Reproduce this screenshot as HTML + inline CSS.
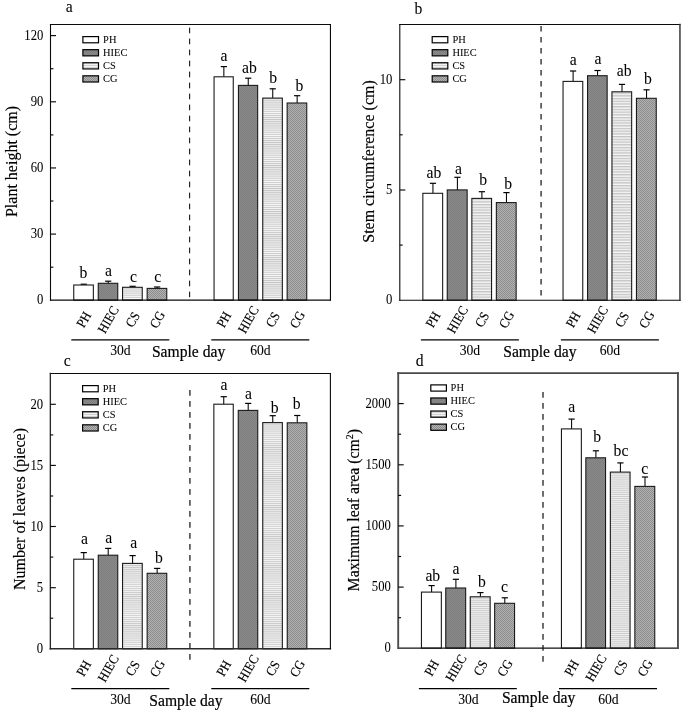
<!DOCTYPE html><html><head><meta charset="utf-8"><title>Figure</title>
<style>html,body{margin:0;padding:0;background:#fff;}svg{display:block;filter:grayscale(1);}text{font-family:"Liberation Serif",serif;fill:#000;stroke:#000;}</style></head><body>
<svg width="685" height="714" viewBox="0 0 685 714">
<defs>
<pattern id="hiec" width="2" height="2" patternUnits="userSpaceOnUse"><rect width="2" height="2" fill="#8a8a8a"/><rect width="1" height="1" fill="#7e7e7e"/><rect x="1" y="1" width="1" height="1" fill="#7e7e7e"/></pattern>
<pattern id="cs" width="4" height="2.09" patternUnits="userSpaceOnUse"><rect width="4" height="2.09" fill="#f6f6f6"/><rect y="0" width="4" height="1.045" fill="#c6c6c6"/></pattern>
<pattern id="csb" width="4" height="2.72" patternUnits="userSpaceOnUse"><rect width="4" height="2.72" fill="#f6f6f6"/><rect y="0" width="4" height="1.360" fill="#c4c4c4"/></pattern>
<pattern id="csc" width="4" height="2.07" patternUnits="userSpaceOnUse"><rect width="4" height="2.07" fill="#f5f5f5"/><rect y="0" width="4" height="1.035" fill="#c9c9c9"/></pattern>
<pattern id="csd" width="4" height="1.93" patternUnits="userSpaceOnUse"><rect width="4" height="1.93" fill="#f0f0f0"/><rect y="0" width="4" height="0.965" fill="#cccccc"/></pattern>
<pattern id="cg" width="2" height="2" patternUnits="userSpaceOnUse"><rect width="2" height="2" fill="#b2b2b2"/><rect width="1" height="1" fill="#8c8c8c"/><rect x="1" y="1" width="1" height="1" fill="#8c8c8c"/></pattern>
</defs>
<rect width="685" height="714" fill="#fff"/>
<line x1="83.75" y1="285.00" x2="83.75" y2="284.20" stroke="#000" stroke-width="1.05"/>
<line x1="80.65" y1="284.20" x2="86.85" y2="284.20" stroke="#000" stroke-width="1.2"/>
<rect x="73.75" y="285.00" width="19.60" height="15.15" fill="#fff" stroke="#1a1a1a" stroke-width="1.1"/>
<line x1="108.20" y1="283.30" x2="108.20" y2="281.20" stroke="#000" stroke-width="1.05"/>
<line x1="105.10" y1="281.20" x2="111.30" y2="281.20" stroke="#000" stroke-width="1.2"/>
<rect x="98.25" y="283.30" width="19.50" height="16.85" fill="url(#hiec)" stroke="#1a1a1a" stroke-width="1.1"/>
<line x1="132.60" y1="287.30" x2="132.60" y2="286.30" stroke="#000" stroke-width="1.05"/>
<line x1="129.50" y1="286.30" x2="135.70" y2="286.30" stroke="#000" stroke-width="1.2"/>
<rect x="122.55" y="287.30" width="19.70" height="12.85" fill="url(#cs)" stroke="#1a1a1a" stroke-width="1.1"/>
<line x1="157.15" y1="288.40" x2="157.15" y2="287.00" stroke="#000" stroke-width="1.05"/>
<line x1="154.05" y1="287.00" x2="160.25" y2="287.00" stroke="#000" stroke-width="1.2"/>
<rect x="147.15" y="288.40" width="19.60" height="11.75" fill="url(#cg)" stroke="#1a1a1a" stroke-width="1.1"/>
<line x1="223.85" y1="76.80" x2="223.85" y2="66.60" stroke="#000" stroke-width="1.05"/>
<line x1="220.75" y1="66.60" x2="226.95" y2="66.60" stroke="#000" stroke-width="1.2"/>
<rect x="214.05" y="76.80" width="19.20" height="223.35" fill="#fff" stroke="#1a1a1a" stroke-width="1.1"/>
<line x1="248.25" y1="85.40" x2="248.25" y2="78.20" stroke="#000" stroke-width="1.05"/>
<line x1="245.15" y1="78.20" x2="251.35" y2="78.20" stroke="#000" stroke-width="1.2"/>
<rect x="238.45" y="85.40" width="19.20" height="214.75" fill="url(#hiec)" stroke="#1a1a1a" stroke-width="1.1"/>
<line x1="272.75" y1="98.10" x2="272.75" y2="88.80" stroke="#000" stroke-width="1.05"/>
<line x1="269.65" y1="88.80" x2="275.85" y2="88.80" stroke="#000" stroke-width="1.2"/>
<rect x="262.75" y="98.10" width="19.60" height="202.05" fill="url(#cs)" stroke="#1a1a1a" stroke-width="1.1"/>
<line x1="297.15" y1="103.00" x2="297.15" y2="95.70" stroke="#000" stroke-width="1.05"/>
<line x1="294.05" y1="95.70" x2="300.25" y2="95.70" stroke="#000" stroke-width="1.2"/>
<rect x="287.15" y="103.00" width="19.60" height="197.15" fill="url(#cg)" stroke="#1a1a1a" stroke-width="1.1"/>
<line x1="189.65" y1="27.6" x2="189.65" y2="297.20" stroke="#000" stroke-width="1.0" stroke-dasharray="5.7 5.3"/>
<line x1="50.50" y1="24.55" x2="330.45" y2="24.55" stroke="#0a0a0a" stroke-width="1.1" stroke-linecap="square"/>
<line x1="50.50" y1="300.15" x2="330.45" y2="300.15" stroke="#0a0a0a" stroke-width="1.1" stroke-linecap="square"/>
<line x1="50.50" y1="24.55" x2="50.50" y2="300.15" stroke="#0a0a0a" stroke-width="1.1" stroke-linecap="square"/>
<line x1="330.45" y1="24.55" x2="330.45" y2="300.15" stroke="#0a0a0a" stroke-width="1.1" stroke-linecap="square"/>
<text transform="translate(43.30,304.35) scale(0.905,1)" font-size="14.0" stroke-width="0.04" text-anchor="end">0</text>
<line x1="50.5" y1="234.10" x2="56.0" y2="234.10" stroke="#0a0a0a" stroke-width="1.15"/>
<text transform="translate(43.30,238.30) scale(0.905,1)" font-size="14.0" stroke-width="0.04" text-anchor="end">30</text>
<line x1="50.5" y1="167.95" x2="56.0" y2="167.95" stroke="#0a0a0a" stroke-width="1.15"/>
<text transform="translate(43.30,172.15) scale(0.905,1)" font-size="14.0" stroke-width="0.04" text-anchor="end">60</text>
<line x1="50.5" y1="101.80" x2="56.0" y2="101.80" stroke="#0a0a0a" stroke-width="1.15"/>
<text transform="translate(43.30,106.00) scale(0.905,1)" font-size="14.0" stroke-width="0.04" text-anchor="end">90</text>
<line x1="50.5" y1="35.60" x2="56.0" y2="35.60" stroke="#0a0a0a" stroke-width="1.15"/>
<text transform="translate(43.30,39.80) scale(0.905,1)" font-size="14.0" stroke-width="0.04" text-anchor="end">120</text>
<line x1="50.5" y1="267.20" x2="53.4" y2="267.20" stroke="#0a0a0a" stroke-width="1.15"/>
<line x1="50.5" y1="201.00" x2="53.4" y2="201.00" stroke="#0a0a0a" stroke-width="1.15"/>
<line x1="50.5" y1="134.90" x2="53.4" y2="134.90" stroke="#0a0a0a" stroke-width="1.15"/>
<line x1="50.5" y1="68.70" x2="53.4" y2="68.70" stroke="#0a0a0a" stroke-width="1.15"/>
<text transform="translate(83.50,277.70) scale(0.97,1)" font-size="16.2" stroke-width="0.05" text-anchor="middle">b</text>
<text transform="translate(108.50,276.30) scale(0.97,1)" font-size="16.2" stroke-width="0.05" text-anchor="middle">a</text>
<text transform="translate(133.60,282.40) scale(0.97,1)" font-size="16.2" stroke-width="0.05" text-anchor="middle">c</text>
<text transform="translate(157.80,282.40) scale(0.97,1)" font-size="16.2" stroke-width="0.05" text-anchor="middle">c</text>
<text transform="translate(224.00,61.00) scale(0.97,1)" font-size="16.2" stroke-width="0.05" text-anchor="middle">a</text>
<text transform="translate(249.40,72.90) scale(0.97,1)" font-size="16.2" stroke-width="0.05" text-anchor="middle">ab</text>
<text transform="translate(273.20,82.60) scale(0.97,1)" font-size="16.2" stroke-width="0.05" text-anchor="middle">b</text>
<text transform="translate(299.50,91.30) scale(0.97,1)" font-size="16.2" stroke-width="0.05" text-anchor="middle">b</text>
<rect x="82.90" y="36.60" width="15.6" height="6.2" fill="#fff" stroke="#000" stroke-width="1.2"/>
<text transform="translate(103.10,42.80) scale(0.93,1)" font-size="11.2" stroke-width="0.05" text-anchor="start">PH</text>
<rect x="82.90" y="49.67" width="15.6" height="6.2" fill="url(#hiec)" stroke="#000" stroke-width="1.2"/>
<text transform="translate(103.10,55.87) scale(0.93,1)" font-size="11.2" stroke-width="0.05" text-anchor="start">HIEC</text>
<rect x="82.90" y="62.74" width="15.6" height="6.2" fill="url(#cs)" stroke="#000" stroke-width="1.2"/>
<text transform="translate(103.10,68.94) scale(0.93,1)" font-size="11.2" stroke-width="0.05" text-anchor="start">CS</text>
<rect x="82.90" y="75.81" width="15.6" height="6.2" fill="url(#cg)" stroke="#000" stroke-width="1.2"/>
<text transform="translate(103.10,82.01) scale(0.93,1)" font-size="11.2" stroke-width="0.05" text-anchor="start">CG</text>
<text transform="translate(83.95,319.60) rotate(-60) scale(0.9,1)" font-size="13.6" stroke-width="0.15" text-anchor="middle" y="4.4">PH</text>
<text transform="translate(108.40,319.60) rotate(-60) scale(0.9,1)" font-size="13.6" stroke-width="0.15" text-anchor="middle" y="4.4">HIEC</text>
<text transform="translate(132.80,319.60) rotate(-60) scale(0.9,1)" font-size="13.6" stroke-width="0.15" text-anchor="middle" y="4.4">CS</text>
<text transform="translate(157.35,319.60) rotate(-60) scale(0.9,1)" font-size="13.6" stroke-width="0.15" text-anchor="middle" y="4.4">CG</text>
<text transform="translate(224.05,319.60) rotate(-60) scale(0.9,1)" font-size="13.6" stroke-width="0.15" text-anchor="middle" y="4.4">PH</text>
<text transform="translate(248.45,319.60) rotate(-60) scale(0.9,1)" font-size="13.6" stroke-width="0.15" text-anchor="middle" y="4.4">HIEC</text>
<text transform="translate(272.95,319.60) rotate(-60) scale(0.9,1)" font-size="13.6" stroke-width="0.15" text-anchor="middle" y="4.4">CS</text>
<text transform="translate(297.35,319.60) rotate(-60) scale(0.9,1)" font-size="13.6" stroke-width="0.15" text-anchor="middle" y="4.4">CG</text>
<line x1="71.3" y1="339.8" x2="169.3" y2="339.8" stroke="#000" stroke-width="1.2"/>
<line x1="211.3" y1="339.8" x2="309.3" y2="339.8" stroke="#000" stroke-width="1.2"/>
<text transform="translate(120.40,354.80) scale(0.975,1)" font-size="14.0" stroke-width="0.08" text-anchor="middle">30d</text>
<text transform="translate(260.40,354.80) scale(0.975,1)" font-size="14.0" stroke-width="0.08" text-anchor="middle">60d</text>
<text transform="translate(151.90,356.70) scale(0.93,1)" font-size="16.8" stroke-width="0.22" text-anchor="start">Sample day</text>
<text transform="translate(17.20,161.50) rotate(-90) scale(0.953,1)" font-size="16.8" stroke-width="0.16" text-anchor="middle">Plant height (cm)</text>
<text transform="translate(65.70,11.80) scale(0.97,1)" font-size="16.2" stroke-width="0.05" text-anchor="start">a</text>
<line x1="432.95" y1="193.30" x2="432.95" y2="183.30" stroke="#000" stroke-width="1.05"/>
<line x1="429.85" y1="183.30" x2="436.05" y2="183.30" stroke="#000" stroke-width="1.2"/>
<rect x="422.85" y="193.30" width="19.80" height="106.90" fill="#fff" stroke="#1a1a1a" stroke-width="1.1"/>
<line x1="457.40" y1="189.90" x2="457.40" y2="177.30" stroke="#000" stroke-width="1.05"/>
<line x1="454.30" y1="177.30" x2="460.50" y2="177.30" stroke="#000" stroke-width="1.2"/>
<rect x="447.25" y="189.90" width="19.90" height="110.30" fill="url(#hiec)" stroke="#1a1a1a" stroke-width="1.1"/>
<line x1="481.90" y1="198.40" x2="481.90" y2="191.70" stroke="#000" stroke-width="1.05"/>
<line x1="478.80" y1="191.70" x2="485.00" y2="191.70" stroke="#000" stroke-width="1.2"/>
<rect x="471.85" y="198.40" width="19.70" height="101.80" fill="url(#csb)" stroke="#1a1a1a" stroke-width="1.1"/>
<line x1="506.45" y1="202.60" x2="506.45" y2="192.60" stroke="#000" stroke-width="1.05"/>
<line x1="503.35" y1="192.60" x2="509.55" y2="192.60" stroke="#000" stroke-width="1.2"/>
<rect x="496.35" y="202.60" width="19.80" height="97.60" fill="url(#cg)" stroke="#1a1a1a" stroke-width="1.1"/>
<line x1="573.10" y1="81.40" x2="573.10" y2="71.00" stroke="#000" stroke-width="1.05"/>
<line x1="570.00" y1="71.00" x2="576.20" y2="71.00" stroke="#000" stroke-width="1.2"/>
<rect x="563.05" y="81.40" width="19.70" height="218.80" fill="#fff" stroke="#1a1a1a" stroke-width="1.1"/>
<line x1="597.55" y1="75.70" x2="597.55" y2="70.50" stroke="#000" stroke-width="1.05"/>
<line x1="594.45" y1="70.50" x2="600.65" y2="70.50" stroke="#000" stroke-width="1.2"/>
<rect x="587.55" y="75.70" width="19.60" height="224.50" fill="url(#hiec)" stroke="#1a1a1a" stroke-width="1.1"/>
<line x1="622.00" y1="91.80" x2="622.00" y2="84.40" stroke="#000" stroke-width="1.05"/>
<line x1="618.90" y1="84.40" x2="625.10" y2="84.40" stroke="#000" stroke-width="1.2"/>
<rect x="611.95" y="91.80" width="19.70" height="208.40" fill="url(#csb)" stroke="#1a1a1a" stroke-width="1.1"/>
<line x1="646.55" y1="98.30" x2="646.55" y2="89.80" stroke="#000" stroke-width="1.05"/>
<line x1="643.45" y1="89.80" x2="649.65" y2="89.80" stroke="#000" stroke-width="1.2"/>
<rect x="636.45" y="98.30" width="19.80" height="201.90" fill="url(#cg)" stroke="#1a1a1a" stroke-width="1.1"/>
<line x1="541.1" y1="25.9" x2="541.1" y2="295.50" stroke="#555" stroke-width="1.7" stroke-dasharray="5.7 5.3"/>
<line x1="399.80" y1="24.55" x2="679.95" y2="24.55" stroke="#0a0a0a" stroke-width="1.1" stroke-linecap="square"/>
<line x1="399.80" y1="300.20" x2="679.95" y2="300.20" stroke="#0a0a0a" stroke-width="1.1" stroke-linecap="square"/>
<line x1="399.80" y1="24.55" x2="399.80" y2="300.20" stroke="#0a0a0a" stroke-width="1.1" stroke-linecap="square"/>
<line x1="679.95" y1="24.55" x2="679.95" y2="300.20" stroke="#3a3a3a" stroke-width="1.5" stroke-linecap="square"/>
<text transform="translate(392.40,304.40) scale(0.905,1)" font-size="14.0" stroke-width="0.04" text-anchor="end">0</text>
<line x1="399.8" y1="190.00" x2="405.3" y2="190.00" stroke="#0a0a0a" stroke-width="1.15"/>
<text transform="translate(392.40,194.20) scale(0.905,1)" font-size="14.0" stroke-width="0.04" text-anchor="end">5</text>
<line x1="399.8" y1="79.70" x2="405.3" y2="79.70" stroke="#0a0a0a" stroke-width="1.15"/>
<text transform="translate(392.40,83.90) scale(0.905,1)" font-size="14.0" stroke-width="0.04" text-anchor="end">10</text>
<line x1="399.8" y1="245.10" x2="402.7" y2="245.10" stroke="#0a0a0a" stroke-width="1.15"/>
<line x1="399.8" y1="134.80" x2="402.7" y2="134.80" stroke="#0a0a0a" stroke-width="1.15"/>
<text transform="translate(434.00,178.00) scale(0.97,1)" font-size="16.2" stroke-width="0.05" text-anchor="middle">ab</text>
<text transform="translate(458.50,174.00) scale(0.97,1)" font-size="16.2" stroke-width="0.05" text-anchor="middle">a</text>
<text transform="translate(483.20,185.00) scale(0.97,1)" font-size="16.2" stroke-width="0.05" text-anchor="middle">b</text>
<text transform="translate(508.10,188.90) scale(0.97,1)" font-size="16.2" stroke-width="0.05" text-anchor="middle">b</text>
<text transform="translate(573.30,65.00) scale(0.97,1)" font-size="16.2" stroke-width="0.05" text-anchor="middle">a</text>
<text transform="translate(598.10,64.00) scale(0.97,1)" font-size="16.2" stroke-width="0.05" text-anchor="middle">a</text>
<text transform="translate(624.20,75.70) scale(0.97,1)" font-size="16.2" stroke-width="0.05" text-anchor="middle">ab</text>
<text transform="translate(647.80,83.90) scale(0.97,1)" font-size="16.2" stroke-width="0.05" text-anchor="middle">b</text>
<rect x="432.20" y="36.60" width="15.6" height="6.2" fill="#fff" stroke="#000" stroke-width="1.2"/>
<text transform="translate(452.40,42.80) scale(0.93,1)" font-size="11.2" stroke-width="0.05" text-anchor="start">PH</text>
<rect x="432.20" y="49.67" width="15.6" height="6.2" fill="url(#hiec)" stroke="#000" stroke-width="1.2"/>
<text transform="translate(452.40,55.87) scale(0.93,1)" font-size="11.2" stroke-width="0.05" text-anchor="start">HIEC</text>
<rect x="432.20" y="62.74" width="15.6" height="6.2" fill="url(#cs)" stroke="#000" stroke-width="1.2"/>
<text transform="translate(452.40,68.94) scale(0.93,1)" font-size="11.2" stroke-width="0.05" text-anchor="start">CS</text>
<rect x="432.20" y="75.81" width="15.6" height="6.2" fill="url(#cg)" stroke="#000" stroke-width="1.2"/>
<text transform="translate(452.40,82.01) scale(0.93,1)" font-size="11.2" stroke-width="0.05" text-anchor="start">CG</text>
<text transform="translate(433.15,319.60) rotate(-60) scale(0.9,1)" font-size="13.6" stroke-width="0.15" text-anchor="middle" y="4.4">PH</text>
<text transform="translate(457.60,319.60) rotate(-60) scale(0.9,1)" font-size="13.6" stroke-width="0.15" text-anchor="middle" y="4.4">HIEC</text>
<text transform="translate(482.10,319.60) rotate(-60) scale(0.9,1)" font-size="13.6" stroke-width="0.15" text-anchor="middle" y="4.4">CS</text>
<text transform="translate(506.65,319.60) rotate(-60) scale(0.9,1)" font-size="13.6" stroke-width="0.15" text-anchor="middle" y="4.4">CG</text>
<text transform="translate(573.30,319.60) rotate(-60) scale(0.9,1)" font-size="13.6" stroke-width="0.15" text-anchor="middle" y="4.4">PH</text>
<text transform="translate(597.75,319.60) rotate(-60) scale(0.9,1)" font-size="13.6" stroke-width="0.15" text-anchor="middle" y="4.4">HIEC</text>
<text transform="translate(622.20,319.60) rotate(-60) scale(0.9,1)" font-size="13.6" stroke-width="0.15" text-anchor="middle" y="4.4">CS</text>
<text transform="translate(646.75,319.60) rotate(-60) scale(0.9,1)" font-size="13.6" stroke-width="0.15" text-anchor="middle" y="4.4">CG</text>
<line x1="420.9" y1="339.8" x2="518.9" y2="339.8" stroke="#000" stroke-width="1.2"/>
<line x1="560.9" y1="339.8" x2="658.9" y2="339.8" stroke="#000" stroke-width="1.2"/>
<text transform="translate(469.90,354.80) scale(0.975,1)" font-size="14.0" stroke-width="0.08" text-anchor="middle">30d</text>
<text transform="translate(609.90,354.80) scale(0.975,1)" font-size="14.0" stroke-width="0.08" text-anchor="middle">60d</text>
<text transform="translate(503.20,356.90) scale(0.93,1)" font-size="16.8" stroke-width="0.22" text-anchor="start">Sample day</text>
<text transform="translate(373.80,161.50) rotate(-90) scale(0.953,1)" font-size="16.8" stroke-width="0.16" text-anchor="middle">Stem circumference (cm)</text>
<text transform="translate(414.50,13.60) scale(0.97,1)" font-size="16.2" stroke-width="0.05" text-anchor="start">b</text>
<line x1="83.75" y1="559.20" x2="83.75" y2="552.60" stroke="#000" stroke-width="1.05"/>
<line x1="80.65" y1="552.60" x2="86.85" y2="552.60" stroke="#000" stroke-width="1.2"/>
<rect x="73.75" y="559.20" width="19.60" height="89.60" fill="#fff" stroke="#1a1a1a" stroke-width="1.1"/>
<line x1="108.20" y1="555.20" x2="108.20" y2="548.40" stroke="#000" stroke-width="1.05"/>
<line x1="105.10" y1="548.40" x2="111.30" y2="548.40" stroke="#000" stroke-width="1.2"/>
<rect x="98.25" y="555.20" width="19.50" height="93.60" fill="url(#hiec)" stroke="#1a1a1a" stroke-width="1.1"/>
<line x1="132.60" y1="563.40" x2="132.60" y2="555.60" stroke="#000" stroke-width="1.05"/>
<line x1="129.50" y1="555.60" x2="135.70" y2="555.60" stroke="#000" stroke-width="1.2"/>
<rect x="122.55" y="563.40" width="19.70" height="85.40" fill="url(#csc)" stroke="#1a1a1a" stroke-width="1.1"/>
<line x1="157.15" y1="573.30" x2="157.15" y2="568.40" stroke="#000" stroke-width="1.05"/>
<line x1="154.05" y1="568.40" x2="160.25" y2="568.40" stroke="#000" stroke-width="1.2"/>
<rect x="147.15" y="573.30" width="19.60" height="75.50" fill="url(#cg)" stroke="#1a1a1a" stroke-width="1.1"/>
<line x1="223.75" y1="404.20" x2="223.75" y2="396.70" stroke="#000" stroke-width="1.05"/>
<line x1="220.65" y1="396.70" x2="226.85" y2="396.70" stroke="#000" stroke-width="1.2"/>
<rect x="213.85" y="404.20" width="19.40" height="244.60" fill="#fff" stroke="#1a1a1a" stroke-width="1.1"/>
<line x1="248.20" y1="410.40" x2="248.20" y2="403.40" stroke="#000" stroke-width="1.05"/>
<line x1="245.10" y1="403.40" x2="251.30" y2="403.40" stroke="#000" stroke-width="1.2"/>
<rect x="238.25" y="410.40" width="19.50" height="238.40" fill="url(#hiec)" stroke="#1a1a1a" stroke-width="1.1"/>
<line x1="272.75" y1="422.60" x2="272.75" y2="415.70" stroke="#000" stroke-width="1.05"/>
<line x1="269.65" y1="415.70" x2="275.85" y2="415.70" stroke="#000" stroke-width="1.2"/>
<rect x="262.75" y="422.60" width="19.60" height="226.20" fill="url(#csc)" stroke="#1a1a1a" stroke-width="1.1"/>
<line x1="297.25" y1="422.80" x2="297.25" y2="415.50" stroke="#000" stroke-width="1.05"/>
<line x1="294.15" y1="415.50" x2="300.35" y2="415.50" stroke="#000" stroke-width="1.2"/>
<rect x="287.25" y="422.80" width="19.60" height="226.00" fill="url(#cg)" stroke="#1a1a1a" stroke-width="1.1"/>
<line x1="189.9" y1="390.1" x2="189.9" y2="659.70" stroke="#555" stroke-width="1.7" stroke-dasharray="5.7 5.3"/>
<line x1="50.35" y1="373.50" x2="330.40" y2="373.50" stroke="#0a0a0a" stroke-width="1.1" stroke-linecap="square"/>
<line x1="50.35" y1="648.80" x2="330.40" y2="648.80" stroke="#2a2a2a" stroke-width="1.4" stroke-linecap="square"/>
<line x1="50.35" y1="373.50" x2="50.35" y2="648.80" stroke="#2a2a2a" stroke-width="1.35" stroke-linecap="square"/>
<line x1="330.40" y1="373.50" x2="330.40" y2="648.80" stroke="#0a0a0a" stroke-width="1.1" stroke-linecap="square"/>
<text transform="translate(43.20,653.00) scale(0.905,1)" font-size="14.0" stroke-width="0.04" text-anchor="end">0</text>
<line x1="50.35" y1="587.70" x2="55.85" y2="587.70" stroke="#0a0a0a" stroke-width="1.15"/>
<text transform="translate(43.20,591.90) scale(0.905,1)" font-size="14.0" stroke-width="0.04" text-anchor="end">5</text>
<line x1="50.35" y1="526.50" x2="55.85" y2="526.50" stroke="#0a0a0a" stroke-width="1.15"/>
<text transform="translate(43.20,530.70) scale(0.905,1)" font-size="14.0" stroke-width="0.04" text-anchor="end">10</text>
<line x1="50.35" y1="465.40" x2="55.85" y2="465.40" stroke="#0a0a0a" stroke-width="1.15"/>
<text transform="translate(43.20,469.60) scale(0.905,1)" font-size="14.0" stroke-width="0.04" text-anchor="end">15</text>
<line x1="50.35" y1="404.30" x2="55.85" y2="404.30" stroke="#0a0a0a" stroke-width="1.15"/>
<text transform="translate(43.20,408.50) scale(0.905,1)" font-size="14.0" stroke-width="0.04" text-anchor="end">20</text>
<line x1="50.35" y1="618.20" x2="53.25" y2="618.20" stroke="#0a0a0a" stroke-width="1.15"/>
<line x1="50.35" y1="557.10" x2="53.25" y2="557.10" stroke="#0a0a0a" stroke-width="1.15"/>
<line x1="50.35" y1="496.00" x2="53.25" y2="496.00" stroke="#0a0a0a" stroke-width="1.15"/>
<line x1="50.35" y1="434.90" x2="53.25" y2="434.90" stroke="#0a0a0a" stroke-width="1.15"/>
<text transform="translate(84.50,543.70) scale(0.97,1)" font-size="16.2" stroke-width="0.05" text-anchor="middle">a</text>
<text transform="translate(108.70,542.80) scale(0.97,1)" font-size="16.2" stroke-width="0.05" text-anchor="middle">a</text>
<text transform="translate(133.80,547.50) scale(0.97,1)" font-size="16.2" stroke-width="0.05" text-anchor="middle">a</text>
<text transform="translate(159.00,563.30) scale(0.97,1)" font-size="16.2" stroke-width="0.05" text-anchor="middle">b</text>
<text transform="translate(223.90,389.50) scale(0.97,1)" font-size="16.2" stroke-width="0.05" text-anchor="middle">a</text>
<text transform="translate(248.60,399.10) scale(0.97,1)" font-size="16.2" stroke-width="0.05" text-anchor="middle">a</text>
<text transform="translate(274.60,413.40) scale(0.97,1)" font-size="16.2" stroke-width="0.05" text-anchor="middle">b</text>
<text transform="translate(296.70,408.50) scale(0.97,1)" font-size="16.2" stroke-width="0.05" text-anchor="middle">b</text>
<rect x="82.60" y="385.60" width="15.6" height="6.2" fill="#fff" stroke="#000" stroke-width="1.2"/>
<text transform="translate(102.80,391.80) scale(0.93,1)" font-size="11.2" stroke-width="0.05" text-anchor="start">PH</text>
<rect x="82.60" y="398.67" width="15.6" height="6.2" fill="url(#hiec)" stroke="#000" stroke-width="1.2"/>
<text transform="translate(102.80,404.87) scale(0.93,1)" font-size="11.2" stroke-width="0.05" text-anchor="start">HIEC</text>
<rect x="82.60" y="411.74" width="15.6" height="6.2" fill="url(#cs)" stroke="#000" stroke-width="1.2"/>
<text transform="translate(102.80,417.94) scale(0.93,1)" font-size="11.2" stroke-width="0.05" text-anchor="start">CS</text>
<rect x="82.60" y="424.81" width="15.6" height="6.2" fill="url(#cg)" stroke="#000" stroke-width="1.2"/>
<text transform="translate(102.80,431.01) scale(0.93,1)" font-size="11.2" stroke-width="0.05" text-anchor="start">CG</text>
<text transform="translate(83.95,668.40) rotate(-60) scale(0.9,1)" font-size="13.6" stroke-width="0.15" text-anchor="middle" y="4.4">PH</text>
<text transform="translate(108.40,668.40) rotate(-60) scale(0.9,1)" font-size="13.6" stroke-width="0.15" text-anchor="middle" y="4.4">HIEC</text>
<text transform="translate(132.80,668.40) rotate(-60) scale(0.9,1)" font-size="13.6" stroke-width="0.15" text-anchor="middle" y="4.4">CS</text>
<text transform="translate(157.35,668.40) rotate(-60) scale(0.9,1)" font-size="13.6" stroke-width="0.15" text-anchor="middle" y="4.4">CG</text>
<text transform="translate(223.95,668.40) rotate(-60) scale(0.9,1)" font-size="13.6" stroke-width="0.15" text-anchor="middle" y="4.4">PH</text>
<text transform="translate(248.40,668.40) rotate(-60) scale(0.9,1)" font-size="13.6" stroke-width="0.15" text-anchor="middle" y="4.4">HIEC</text>
<text transform="translate(272.95,668.40) rotate(-60) scale(0.9,1)" font-size="13.6" stroke-width="0.15" text-anchor="middle" y="4.4">CS</text>
<text transform="translate(297.45,668.40) rotate(-60) scale(0.9,1)" font-size="13.6" stroke-width="0.15" text-anchor="middle" y="4.4">CG</text>
<line x1="71.3" y1="688.6" x2="169.3" y2="688.6" stroke="#000" stroke-width="1.2"/>
<line x1="211.3" y1="688.6" x2="309.3" y2="688.6" stroke="#000" stroke-width="1.2"/>
<text transform="translate(120.40,703.80) scale(0.975,1)" font-size="14.0" stroke-width="0.08" text-anchor="middle">30d</text>
<text transform="translate(260.40,703.80) scale(0.975,1)" font-size="14.0" stroke-width="0.08" text-anchor="middle">60d</text>
<text transform="translate(149.30,705.60) scale(0.93,1)" font-size="16.8" stroke-width="0.22" text-anchor="start">Sample day</text>
<text transform="translate(24.60,509.00) rotate(-90) scale(0.953,1)" font-size="16.8" stroke-width="0.16" text-anchor="middle">Number of leaves (piece)</text>
<text transform="translate(63.70,366.00) scale(0.97,1)" font-size="16.2" stroke-width="0.05" text-anchor="start">c</text>
<line x1="431.60" y1="592.10" x2="431.60" y2="585.60" stroke="#000" stroke-width="1.05"/>
<line x1="428.50" y1="585.60" x2="434.70" y2="585.60" stroke="#000" stroke-width="1.2"/>
<rect x="421.45" y="592.10" width="19.90" height="56.05" fill="#fff" stroke="#1a1a1a" stroke-width="1.1"/>
<line x1="455.90" y1="588.00" x2="455.90" y2="579.30" stroke="#000" stroke-width="1.05"/>
<line x1="452.80" y1="579.30" x2="459.00" y2="579.30" stroke="#000" stroke-width="1.2"/>
<rect x="445.75" y="588.00" width="19.90" height="60.15" fill="url(#hiec)" stroke="#1a1a1a" stroke-width="1.1"/>
<line x1="480.40" y1="596.80" x2="480.40" y2="592.60" stroke="#000" stroke-width="1.05"/>
<line x1="477.30" y1="592.60" x2="483.50" y2="592.60" stroke="#000" stroke-width="1.2"/>
<rect x="470.25" y="596.80" width="19.90" height="51.35" fill="url(#csd)" stroke="#1a1a1a" stroke-width="1.1"/>
<line x1="504.80" y1="603.30" x2="504.80" y2="597.80" stroke="#000" stroke-width="1.05"/>
<line x1="501.70" y1="597.80" x2="507.90" y2="597.80" stroke="#000" stroke-width="1.2"/>
<rect x="494.65" y="603.30" width="19.90" height="44.85" fill="url(#cg)" stroke="#1a1a1a" stroke-width="1.1"/>
<line x1="571.60" y1="428.90" x2="571.60" y2="419.10" stroke="#000" stroke-width="1.05"/>
<line x1="568.50" y1="419.10" x2="574.70" y2="419.10" stroke="#000" stroke-width="1.2"/>
<rect x="561.45" y="428.90" width="19.90" height="219.25" fill="#fff" stroke="#1a1a1a" stroke-width="1.1"/>
<line x1="595.90" y1="457.80" x2="595.90" y2="450.80" stroke="#000" stroke-width="1.05"/>
<line x1="592.80" y1="450.80" x2="599.00" y2="450.80" stroke="#000" stroke-width="1.2"/>
<rect x="585.85" y="457.80" width="19.70" height="190.35" fill="url(#hiec)" stroke="#1a1a1a" stroke-width="1.1"/>
<line x1="620.40" y1="472.10" x2="620.40" y2="462.90" stroke="#000" stroke-width="1.05"/>
<line x1="617.30" y1="462.90" x2="623.50" y2="462.90" stroke="#000" stroke-width="1.2"/>
<rect x="610.35" y="472.10" width="19.70" height="176.05" fill="url(#csd)" stroke="#1a1a1a" stroke-width="1.1"/>
<line x1="645.00" y1="486.40" x2="645.00" y2="477.00" stroke="#000" stroke-width="1.05"/>
<line x1="641.90" y1="477.00" x2="648.10" y2="477.00" stroke="#000" stroke-width="1.2"/>
<rect x="634.85" y="486.40" width="19.90" height="161.75" fill="url(#cg)" stroke="#1a1a1a" stroke-width="1.1"/>
<line x1="543.0" y1="392.1" x2="543.0" y2="661.70" stroke="#555" stroke-width="1.7" stroke-dasharray="5.7 5.3"/>
<line x1="398.20" y1="373.10" x2="677.95" y2="373.10" stroke="#4a4a4a" stroke-width="1.7" stroke-linecap="square"/>
<line x1="398.20" y1="648.15" x2="677.95" y2="648.15" stroke="#111" stroke-width="1.2" stroke-linecap="square"/>
<line x1="398.20" y1="373.10" x2="398.20" y2="648.15" stroke="#4a4a4a" stroke-width="1.85" stroke-linecap="square"/>
<line x1="677.95" y1="373.10" x2="677.95" y2="648.15" stroke="#4a4a4a" stroke-width="1.85" stroke-linecap="square"/>
<text transform="translate(390.80,652.35) scale(0.905,1)" font-size="14.0" stroke-width="0.04" text-anchor="end">0</text>
<line x1="398.2" y1="587.10" x2="403.7" y2="587.10" stroke="#0a0a0a" stroke-width="1.15"/>
<text transform="translate(390.80,591.30) scale(0.905,1)" font-size="14.0" stroke-width="0.04" text-anchor="end">500</text>
<line x1="398.2" y1="525.90" x2="403.7" y2="525.90" stroke="#0a0a0a" stroke-width="1.15"/>
<text transform="translate(390.80,530.10) scale(0.905,1)" font-size="14.0" stroke-width="0.04" text-anchor="end">1000</text>
<line x1="398.2" y1="464.80" x2="403.7" y2="464.80" stroke="#0a0a0a" stroke-width="1.15"/>
<text transform="translate(390.80,469.00) scale(0.905,1)" font-size="14.0" stroke-width="0.04" text-anchor="end">1500</text>
<line x1="398.2" y1="403.60" x2="403.7" y2="403.60" stroke="#0a0a0a" stroke-width="1.15"/>
<text transform="translate(390.80,407.80) scale(0.905,1)" font-size="14.0" stroke-width="0.04" text-anchor="end">2000</text>
<line x1="398.2" y1="617.70" x2="401.09999999999997" y2="617.70" stroke="#0a0a0a" stroke-width="1.15"/>
<line x1="398.2" y1="556.50" x2="401.09999999999997" y2="556.50" stroke="#0a0a0a" stroke-width="1.15"/>
<line x1="398.2" y1="495.40" x2="401.09999999999997" y2="495.40" stroke="#0a0a0a" stroke-width="1.15"/>
<line x1="398.2" y1="434.20" x2="401.09999999999997" y2="434.20" stroke="#0a0a0a" stroke-width="1.15"/>
<text transform="translate(432.80,581.00) scale(0.97,1)" font-size="16.2" stroke-width="0.05" text-anchor="middle">ab</text>
<text transform="translate(455.90,573.50) scale(0.97,1)" font-size="16.2" stroke-width="0.05" text-anchor="middle">a</text>
<text transform="translate(481.80,587.20) scale(0.97,1)" font-size="16.2" stroke-width="0.05" text-anchor="middle">b</text>
<text transform="translate(504.60,592.10) scale(0.97,1)" font-size="16.2" stroke-width="0.05" text-anchor="middle">c</text>
<text transform="translate(571.80,412.00) scale(0.97,1)" font-size="16.2" stroke-width="0.05" text-anchor="middle">a</text>
<text transform="translate(597.10,442.20) scale(0.97,1)" font-size="16.2" stroke-width="0.05" text-anchor="middle">b</text>
<text transform="translate(621.00,455.50) scale(0.97,1)" font-size="16.2" stroke-width="0.05" text-anchor="middle">bc</text>
<text transform="translate(644.70,474.30) scale(0.97,1)" font-size="16.2" stroke-width="0.05" text-anchor="middle">c</text>
<rect x="430.80" y="384.90" width="15.6" height="6.2" fill="#fff" stroke="#000" stroke-width="1.2"/>
<text transform="translate(450.60,391.10) scale(0.93,1)" font-size="11.2" stroke-width="0.05" text-anchor="start">PH</text>
<rect x="430.80" y="397.97" width="15.6" height="6.2" fill="url(#hiec)" stroke="#000" stroke-width="1.2"/>
<text transform="translate(450.60,404.17) scale(0.93,1)" font-size="11.2" stroke-width="0.05" text-anchor="start">HIEC</text>
<rect x="430.80" y="411.04" width="15.6" height="6.2" fill="url(#cs)" stroke="#000" stroke-width="1.2"/>
<text transform="translate(450.60,417.24) scale(0.93,1)" font-size="11.2" stroke-width="0.05" text-anchor="start">CS</text>
<rect x="430.80" y="424.11" width="15.6" height="6.2" fill="url(#cg)" stroke="#000" stroke-width="1.2"/>
<text transform="translate(450.60,430.31) scale(0.93,1)" font-size="11.2" stroke-width="0.05" text-anchor="start">CG</text>
<text transform="translate(431.80,668.00) rotate(-60) scale(0.9,1)" font-size="13.6" stroke-width="0.15" text-anchor="middle" y="4.4">PH</text>
<text transform="translate(456.10,668.00) rotate(-60) scale(0.9,1)" font-size="13.6" stroke-width="0.15" text-anchor="middle" y="4.4">HIEC</text>
<text transform="translate(480.60,668.00) rotate(-60) scale(0.9,1)" font-size="13.6" stroke-width="0.15" text-anchor="middle" y="4.4">CS</text>
<text transform="translate(505.00,668.00) rotate(-60) scale(0.9,1)" font-size="13.6" stroke-width="0.15" text-anchor="middle" y="4.4">CG</text>
<text transform="translate(571.80,668.00) rotate(-60) scale(0.9,1)" font-size="13.6" stroke-width="0.15" text-anchor="middle" y="4.4">PH</text>
<text transform="translate(596.10,668.00) rotate(-60) scale(0.9,1)" font-size="13.6" stroke-width="0.15" text-anchor="middle" y="4.4">HIEC</text>
<text transform="translate(620.60,668.00) rotate(-60) scale(0.9,1)" font-size="13.6" stroke-width="0.15" text-anchor="middle" y="4.4">CS</text>
<text transform="translate(645.20,668.00) rotate(-60) scale(0.9,1)" font-size="13.6" stroke-width="0.15" text-anchor="middle" y="4.4">CG</text>
<line x1="418.9" y1="688.6" x2="516.8" y2="688.6" stroke="#000" stroke-width="1.2"/>
<line x1="559.0" y1="688.6" x2="657.0" y2="688.6" stroke="#000" stroke-width="1.2"/>
<text transform="translate(468.40,703.80) scale(0.975,1)" font-size="14.0" stroke-width="0.08" text-anchor="middle">30d</text>
<text transform="translate(608.40,703.80) scale(0.975,1)" font-size="14.0" stroke-width="0.08" text-anchor="middle">60d</text>
<text transform="translate(501.90,703.00) scale(0.93,1)" font-size="16.8" stroke-width="0.22" text-anchor="start">Sample day</text>
<text transform="translate(359.00,510.20) rotate(-90) scale(0.941,1)" font-size="16.8" stroke-width="0.16" text-anchor="middle">Maximum leaf area (cm<tspan font-size="10.5" dy="-6">2</tspan><tspan dy="6">)</tspan></text>
<text transform="translate(415.80,366.00) scale(0.97,1)" font-size="16.2" stroke-width="0.05" text-anchor="start">d</text>
</svg></body></html>
